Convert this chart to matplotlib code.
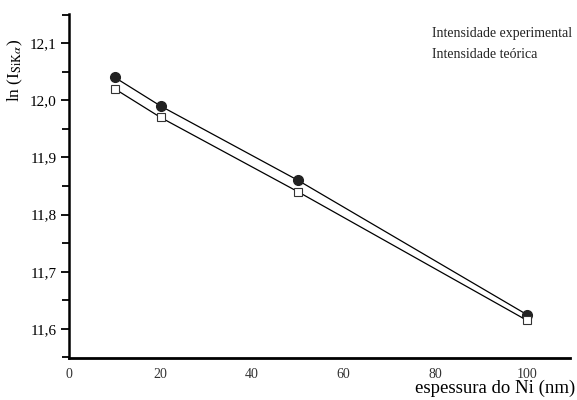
import numpy as np
import matplotlib
matplotlib.use("Agg")
import matplotlib.pyplot as plt
from matplotlib.ticker import MultipleLocator

plt.rcParams['font.family'] = ['Liberation Serif', 'DejaVu Serif']
plt.rcParams['mathtext.fontset'] = 'stix'

# espessura do Ni (nm)
espessura = [10, 20, 50, 100]
intens_exp = [12.04, 11.99, 11.86, 11.625]
intens_teo = [12.02, 11.97, 11.84, 11.615]

xtick_vals = [0, 20, 40, 60, 80, 100]
ytick_vals = [11.6, 11.7, 11.8, 11.9, 12.0, 12.1]

fig = plt.figure(figsize=(5.77, 4.0), dpi=100)
ax = fig.add_axes([0.1196, 0.105, 0.868, 0.86])

ax.plot(espessura, intens_exp, color='black', lw=0.9, marker='o', ms=7,
        mfc='#222222', mec='#222222', zorder=3)
ax.plot(espessura, intens_teo, color='black', lw=0.9, marker='s', ms=6,
        mfc='white', mec='#333333', mew=0.8, zorder=3)

ax.set_xlim(0, 109.4)
ax.set_ylim(11.549, 12.151)

ax.set_xticks(xtick_vals)
ax.set_xticklabels([str(v) for v in xtick_vals], fontsize=10, color='#333333')
ax.tick_params(axis='x', length=0, pad=7)

ax.set_yticks(ytick_vals)
ax.set_yticklabels([f"{v:.1f}".replace('.', ',') for v in ytick_vals], fontsize=11)
ax.yaxis.set_minor_locator(MultipleLocator(0.05))
ax.tick_params(axis='y', which='major', length=6, width=1.3, direction='out', pad=3)
ax.tick_params(axis='y', which='minor', length=5, width=1.3, direction='out')

for s in ['top', 'right']:
    ax.spines[s].set_visible(False)
ax.spines['left'].set_linewidth(1.8)
ax.spines['bottom'].set_linewidth(2.0)

fig.text(15 / 577, 1 - 70 / 400, r"ln (I$_{\mathrm{SiK}\alpha}$)", rotation=90,
         ha='center', va='center', fontsize=12.5)
fig.text(575 / 577, 1 - 388 / 400, "espessura do Ni (nm)", ha='right', va='center',
         fontsize=13.5)

fig.text(432 / 577, 1 - 34 / 400, "Intensidade experimental", ha='left', va='center',
         fontsize=10, color='#222222')
fig.text(432 / 577, 1 - 54 / 400, "Intensidade teórica", ha='left', va='center',
         fontsize=10, color='#222222')

fig.savefig("out.png", dpi=100)
